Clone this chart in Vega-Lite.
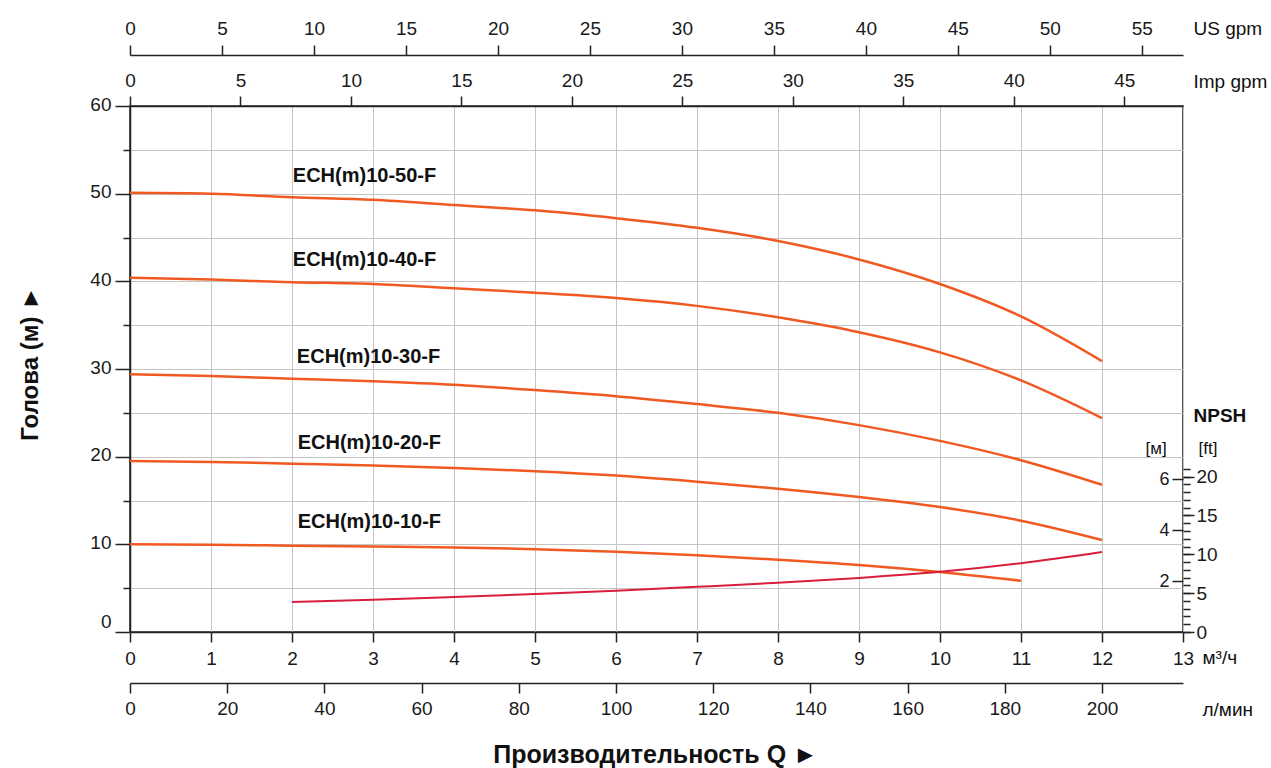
{
  "$schema": "https://vega.github.io/schema/vega-lite/v6.json",
  "width": 1053,
  "height": 526,
  "autosize": {"type": "none"},
  "padding": {"left": 130, "top": 106, "right": 88, "bottom": 136},
  "background": "white",
  "config": {
    "font": "Liberation Sans",
    "view": {"stroke": "#222", "strokeWidth": 1.5},
    "axis": {
      "labelFont": "Liberation Sans", "labelFontSize": 19, "labelColor": "#1a1a1a",
      "titleFont": "Liberation Sans", "titleColor": "#111", "titleFontWeight": "normal", "titleFontSize": 19,
      "domainColor": "#222", "domainWidth": 1.5, "tickColor": "#222", "tickWidth": 1.5,
      "gridColor": "#c4c4c4", "gridWidth": 1, "labelOverlap": false, "labelBound": false, "labelFlush": false
    }
  },
  "datasets": {
    "head": [
      {"model": "50", "q": 0, "h": 50.1}, {"model": "50", "q": 1, "h": 50.0}, {"model": "50", "q": 2, "h": 49.6}, {"model": "50", "q": 3, "h": 49.3}, {"model": "50", "q": 4, "h": 48.7}, {"model": "50", "q": 5, "h": 48.1}, {"model": "50", "q": 6, "h": 47.2}, {"model": "50", "q": 7, "h": 46.1}, {"model": "50", "q": 8, "h": 44.6}, {"model": "50", "q": 9, "h": 42.5}, {"model": "50", "q": 10, "h": 39.7}, {"model": "50", "q": 11, "h": 36.0}, {"model": "50", "q": 12, "h": 30.9},
      {"model": "40", "q": 0, "h": 40.4}, {"model": "40", "q": 1, "h": 40.2}, {"model": "40", "q": 2, "h": 39.9}, {"model": "40", "q": 3, "h": 39.7}, {"model": "40", "q": 4, "h": 39.2}, {"model": "40", "q": 5, "h": 38.7}, {"model": "40", "q": 6, "h": 38.1}, {"model": "40", "q": 7, "h": 37.2}, {"model": "40", "q": 8, "h": 35.9}, {"model": "40", "q": 9, "h": 34.2}, {"model": "40", "q": 10, "h": 31.9}, {"model": "40", "q": 11, "h": 28.7}, {"model": "40", "q": 12, "h": 24.4},
      {"model": "30", "q": 0, "h": 29.4}, {"model": "30", "q": 1, "h": 29.2}, {"model": "30", "q": 2, "h": 28.9}, {"model": "30", "q": 3, "h": 28.6}, {"model": "30", "q": 4, "h": 28.2}, {"model": "30", "q": 5, "h": 27.6}, {"model": "30", "q": 6, "h": 26.9}, {"model": "30", "q": 7, "h": 26.0}, {"model": "30", "q": 8, "h": 25.0}, {"model": "30", "q": 9, "h": 23.6}, {"model": "30", "q": 10, "h": 21.8}, {"model": "30", "q": 11, "h": 19.6}, {"model": "30", "q": 12, "h": 16.8},
      {"model": "20", "q": 0, "h": 19.5}, {"model": "20", "q": 1, "h": 19.4}, {"model": "20", "q": 2, "h": 19.2}, {"model": "20", "q": 3, "h": 19.0}, {"model": "20", "q": 4, "h": 18.7}, {"model": "20", "q": 5, "h": 18.35}, {"model": "20", "q": 6, "h": 17.85}, {"model": "20", "q": 7, "h": 17.15}, {"model": "20", "q": 8, "h": 16.35}, {"model": "20", "q": 9, "h": 15.4}, {"model": "20", "q": 10, "h": 14.25}, {"model": "20", "q": 11, "h": 12.7}, {"model": "20", "q": 12, "h": 10.5},
      {"model": "10", "q": 0, "h": 10.0}, {"model": "10", "q": 1, "h": 9.95}, {"model": "10", "q": 2, "h": 9.85}, {"model": "10", "q": 3, "h": 9.75}, {"model": "10", "q": 4, "h": 9.65}, {"model": "10", "q": 5, "h": 9.45}, {"model": "10", "q": 6, "h": 9.15}, {"model": "10", "q": 7, "h": 8.75}, {"model": "10", "q": 8, "h": 8.25}, {"model": "10", "q": 9, "h": 7.65}, {"model": "10", "q": 10, "h": 6.85}, {"model": "10", "q": 11, "h": 5.85}
    ],
    "npsh": [
      {"q": 2, "m": 1.18}, {"q": 3, "m": 1.26}, {"q": 4, "m": 1.37}, {"q": 5, "m": 1.49}, {"q": 6, "m": 1.62}, {"q": 7, "m": 1.77}, {"q": 8, "m": 1.93}, {"q": 9, "m": 2.12}, {"q": 10, "m": 2.36}, {"q": 11, "m": 2.7}, {"q": 12, "m": 3.14}
    ],
    "labels": [
      {"q": 2.01, "h": 51.96, "label": "ECH(m)10-50-F"},
      {"q": 2.01, "h": 42.43, "label": "ECH(m)10-40-F"},
      {"q": 2.06, "h": 31.37, "label": "ECH(m)10-30-F"},
      {"q": 2.07, "h": 21.56, "label": "ECH(m)10-20-F"},
      {"q": 2.07, "h": 12.55, "label": "ECH(m)10-10-F"}
    ],
    "anchor": [{"q": 0, "v": 0}]
  },
  "layer": [
    {
      "data": {"name": "head"},
      "mark": {"type": "line", "color": "#f05a22", "strokeWidth": 2.5, "interpolate": "monotone"},
      "encoding": {
        "detail": {"field": "model", "type": "nominal"},
        "x": {"field": "q", "type": "quantitative", "scale": {"domain": [0, 13], "nice": false, "zero": false},
          "axis": {"orient": "bottom", "values": [0,1,2,3,4,5,6,7,8,9,10,11,12,13], "grid": true, "tickSize": 10, "labelPadding": 7,
            "title": "м³/ч", "titleX": 1072, "titleY": 25, "titleAlign": "left", "titleBaseline": "middle", "titleAngle": 0}},
        "y": {"field": "h", "type": "quantitative", "scale": {"domain": [0, 60], "nice": false, "zero": false},
          "axis": {"orient": "left", "values": [0,10,20,30,40,50,60], "grid": true, "tickSize": 15, "labelPadding": 4,
            "labelOffset": {"condition": {"test": "datum.value === 0", "value": -11}, "value": -2},
            "title": "Голова (м)   ►", "titleFontWeight": "bold", "titleFontSize": 24, "titleX": -100, "titleY": 257,
            "titleAngle": -90, "titleAlign": "center", "titleBaseline": "middle"}}
      }
    },
    {
      "data": {"name": "labels"},
      "mark": {"type": "text", "align": "left", "baseline": "middle", "fontWeight": "bold", "fontSize": 20, "font": "Liberation Sans", "color": "#111"},
      "encoding": {
        "x": {"field": "q", "type": "quantitative", "scale": {"domain": [0, 13], "nice": false, "zero": false},
          "axis": {"orient": "bottom", "offset": 51, "domain": false, "ticks": false, "labels": false, "grid": false,
            "title": "Производительность Q   ►", "titleFontWeight": "bold", "titleFontSize": 25, "titleX": 525, "titleY": 71,
            "titleAlign": "center", "titleBaseline": "middle", "titleAngle": 0}},
        "y": {"field": "h", "type": "quantitative", "scale": {"domain": [0, 60], "nice": false, "zero": false},
          "axis": {"orient": "left", "values": [5,15,25,35,45,55], "tickSize": 7, "labels": false, "domain": false, "grid": true, "title": null}},
        "text": {"field": "label", "type": "nominal"}
      }
    },
    {
      "data": {"name": "npsh"},
      "mark": {"type": "line", "color": "#d81e3c", "strokeWidth": 2, "interpolate": "monotone"},
      "encoding": {
        "x": {"field": "q", "type": "quantitative", "scale": {"domain": [0, 13], "nice": false, "zero": false}, "axis": null},
        "y": {"field": "m", "type": "quantitative", "scale": {"domain": [0, 20.63], "nice": false, "zero": false},
          "axis": {"orient": "left", "offset": -1053, "values": [2,4,6], "tickSize": 11, "labelPadding": 3, "labelFontSize": 18,
            "domain": false, "grid": false, "title": "[м]", "titleFontSize": 17, "titleX": -38, "titleY": 342, "titleAngle": 0,
            "titleAlign": "left", "titleBaseline": "middle"}}
      }
    },
    {
      "data": {"name": "anchor"},
      "mark": {"type": "point", "opacity": 0},
      "encoding": {
        "y": {"field": "v", "type": "quantitative", "scale": {"domain": [0, 67.68], "nice": false, "zero": false},
          "axis": {"orient": "right", "values": [0,1,2,3,4,5,6,7,8,9,10,11,12,13,14,15,16,17,18,19,20,21], "tickSize": 7, "labels": false,
            "domain": false, "grid": false, "title": "NPSH", "titleFontWeight": "bold", "titleFontSize": 19, "titleX": 10, "titleY": 309,
            "titleAngle": 0, "titleAlign": "left", "titleBaseline": "middle"}}
      }
    },
    {
      "data": {"name": "anchor"},
      "mark": {"type": "point", "opacity": 0},
      "encoding": {
        "y": {"field": "v", "type": "quantitative", "scale": {"domain": [0, 67.68], "nice": false, "zero": false},
          "axis": {"orient": "right", "values": [0,5,10,15,20], "tickSize": 11, "labelPadding": 2, "domain": false, "grid": false,
            "title": "[ft]", "titleFontSize": 17, "titleX": 15, "titleY": 342, "titleAngle": 0, "titleAlign": "left", "titleBaseline": "middle"}}
      }
    },
    {
      "data": {"name": "anchor"},
      "mark": {"type": "point", "opacity": 0},
      "encoding": {
        "x": {"field": "q", "type": "quantitative", "scale": {"domain": [0, 13], "nice": false, "zero": false},
          "axis": {"orient": "top", "offset": 51, "values": [0, 1.13562, 2.27124, 3.40686, 4.54248, 5.6781, 6.81372, 7.94934, 9.08496, 10.22058, 11.3562, 12.49182],
            "labelExpr": "format(datum.value * 4.40287, '.0f')", "tickSize": 10, "labelPadding": 7, "grid": false,
            "title": "US gpm", "titleX": 1063, "titleY": -27, "titleAngle": 0, "titleAlign": "left", "titleBaseline": "middle"}}
      }
    },
    {
      "data": {"name": "anchor"},
      "mark": {"type": "point", "opacity": 0},
      "encoding": {
        "x": {"field": "q", "type": "quantitative", "scale": {"domain": [0, 13], "nice": false, "zero": false},
          "axis": {"orient": "top", "offset": 0, "values": [0, 1.36383, 2.72766, 4.09149, 5.45532, 6.81915, 8.18298, 9.54681, 10.91064, 12.27447],
            "labelExpr": "format(datum.value * 3.66615, '.0f')", "tickSize": 10, "labelPadding": 6, "grid": false,
            "title": "Imp gpm", "titleX": 1063, "titleY": -25, "titleAngle": 0, "titleAlign": "left", "titleBaseline": "middle"}}
      }
    },
    {
      "data": {"name": "anchor"},
      "mark": {"type": "point", "opacity": 0},
      "encoding": {
        "x": {"field": "q", "type": "quantitative", "scale": {"domain": [0, 13], "nice": false, "zero": false},
          "axis": {"orient": "bottom", "offset": 51, "values": [0, 1.2, 2.4, 3.6, 4.8, 6, 7.2, 8.4, 9.6, 10.8, 12],
            "labelExpr": "format(datum.value * 16.66667, '.0f')", "tickSize": 10, "labelPadding": 6, "grid": false,
            "title": "л/мин", "titleX": 1072, "titleY": 26, "titleAngle": 0, "titleAlign": "left", "titleBaseline": "middle"}}
      }
    }
  ],
  "resolve": {"scale": {"x": "independent", "y": "independent"}, "axis": {"x": "independent", "y": "independent"}}
}
